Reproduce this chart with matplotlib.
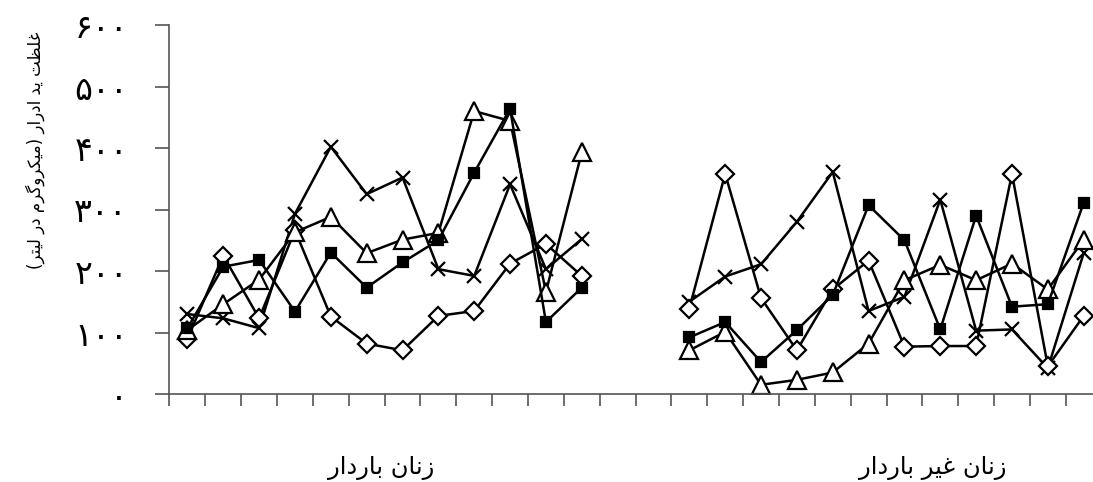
import numpy as np
import matplotlib
matplotlib.use('Agg')
import matplotlib.pyplot as plt

# urinary iodine, pregnant (positions 0-11) and non-pregnant women (positions 14-25)
pos_preg = list(range(0, 12))
pos_nonpreg = list(range(14, 26))

preg_square = [107, 207, 218, 134, 230, 173, 214, 250, 360, 464, 117, 173]
preg_diamond = [90, 225, 123, 266, 126, 82, 71, 127, 135, 212, 244, 192]
preg_triangle = [104, 146, 186, 263, 288, 229, 251, 262, 460, 444, 166, 393]
preg_cross = [130, 123, 107, 293, 402, 325, 352, 203, 192, 341, 203, 252]

nonpreg_square = [92, 117, 52, 104, 161, 307, 250, 105, 290, 142, 146, 311]
nonpreg_diamond = [139, 358, 156, 71, 170, 217, 77, 78, 78, 358, 45, 127]
nonpreg_triangle = [71, 101, 15, 23, 35, 82, 185, 210, 185, 212, 170, 251]
nonpreg_cross = [150, 191, 211, 280, 361, 135, 158, 316, 103, 105, 42, 229]

y_ticks = [0, 100, 200, 300, 400, 500, 600]
y_ticklabels = ['۰', '۱۰۰', '۲۰۰', '۳۰۰', '۴۰۰', '۵۰۰', '۶۰۰']
y_label = 'غلظت ید ادرار (میکروگرم در لیتر)'
group_labels = ['زنان باردار', 'زنان غیر باردار']
group_label_pos = [5.4, 20.8]

# matplotlib has no arabic shaping, so pick presentation forms by hand
FORMS = {
    'ا': ('\uFE8D', '\uFE8E', None, None),
    'ب': ('\uFE8F', '\uFE90', '\uFE91', '\uFE92'),
    'ت': ('\uFE95', '\uFE96', '\uFE97', '\uFE98'),
    'د': ('\uFEA9', '\uFEAA', None, None),
    'ر': ('\uFEAD', '\uFEAE', None, None),
    'ز': ('\uFEAF', '\uFEB0', None, None),
    'ظ': ('\uFEC5', '\uFEC6', '\uFEC7', '\uFEC8'),
    'غ': ('\uFECD', '\uFECE', '\uFECF', '\uFED0'),
    'ل': ('\uFEDD', '\uFEDE', '\uFEDF', '\uFEE0'),
    'م': ('\uFEE1', '\uFEE2', '\uFEE3', '\uFEE4'),
    'ن': ('\uFEE5', '\uFEE6', '\uFEE7', '\uFEE8'),
    'و': ('\uFEED', '\uFEEE', None, None),
    'ک': ('\uFB8E', '\uFB8F', '\uFB90', '\uFB91'),
    'گ': ('\uFB92', '\uFB93', '\uFB94', '\uFB95'),
    'ی': ('\uFBFC', '\uFBFD', '\uFEF3', '\uFEF4'),
}
RIGHT_ONLY = set('ادرزو')


def shape(text):
    out = []
    for i, ch in enumerate(text):
        if ch not in FORMS:
            out.append(ch)
            continue
        prev = text[i - 1] if i > 0 else ''
        nxt = text[i + 1] if i < len(text) - 1 else ''
        join_prev = prev in FORMS and prev not in RIGHT_ONLY
        join_next = ch not in RIGHT_ONLY and nxt in FORMS
        iso, fin, ini, med = FORMS[ch]
        if join_prev and join_next:
            out.append(med)
        elif join_prev:
            out.append(fin)
        elif join_next:
            out.append(ini)
        else:
            out.append(iso)
    return ''.join(reversed(out)).translate(str.maketrans('()', ')('))


plt.rcParams['font.family'] = ['DejaVu Sans']

fig = plt.figure(figsize=(10.93, 4.82), dpi=100)
ax = fig.add_axes([169.5 / 1093, 88 / 482, (1093 - 169.5) / 1093, 369 / 482])

line_kw = dict(color='black', lw=1.8, markeredgecolor='black', markeredgewidth=1.6)
for pos, sq, di, tr, cr in [(pos_preg, preg_square, preg_diamond, preg_triangle, preg_cross),
                            (pos_nonpreg, nonpreg_square, nonpreg_diamond, nonpreg_triangle, nonpreg_cross)]:
    ax.plot(pos, cr, marker='x', ms=10, **line_kw)
    ax.plot(pos, di, marker='D', ms=9, markerfacecolor='white', **line_kw)
    ax.plot(pos, tr, marker='^', ms=13, markerfacecolor='white', **line_kw)
    ax.plot(pos, sq, marker='s', ms=7, markerfacecolor='black', **line_kw)

ax.set_xlim(-0.5, 25.26)
ax.set_ylim(0, 600)
ax.set_xticks(np.arange(-0.5, 25.0, 1.0))
ax.set_xticklabels([])
ax.set_yticks(y_ticks)
ax.set_yticklabels(y_ticklabels, fontsize=24)

for s in ['top', 'right']:
    ax.spines[s].set_visible(False)
for s in ['left', 'bottom']:
    ax.spines[s].set_color('#555555')
    ax.spines[s].set_linewidth(1.2)
ax.tick_params(axis='y', direction='out', length=10, width=1.2, color='#555555', pad=20)
ax.tick_params(axis='x', direction='out', length=8.5, width=1.2, color='#555555')

for lab, xp in zip(group_labels, group_label_pos):
    ax.text(xp, -0.2, shape(lab), transform=ax.get_xaxis_transform(),
            ha='center', va='center', fontsize=17.5)

fig.text(35 / 1093, 1 - 150 / 482, shape(y_label), rotation=90,
         ha='center', va='center', fontsize=12)

fig.savefig('out.png', dpi=100)
